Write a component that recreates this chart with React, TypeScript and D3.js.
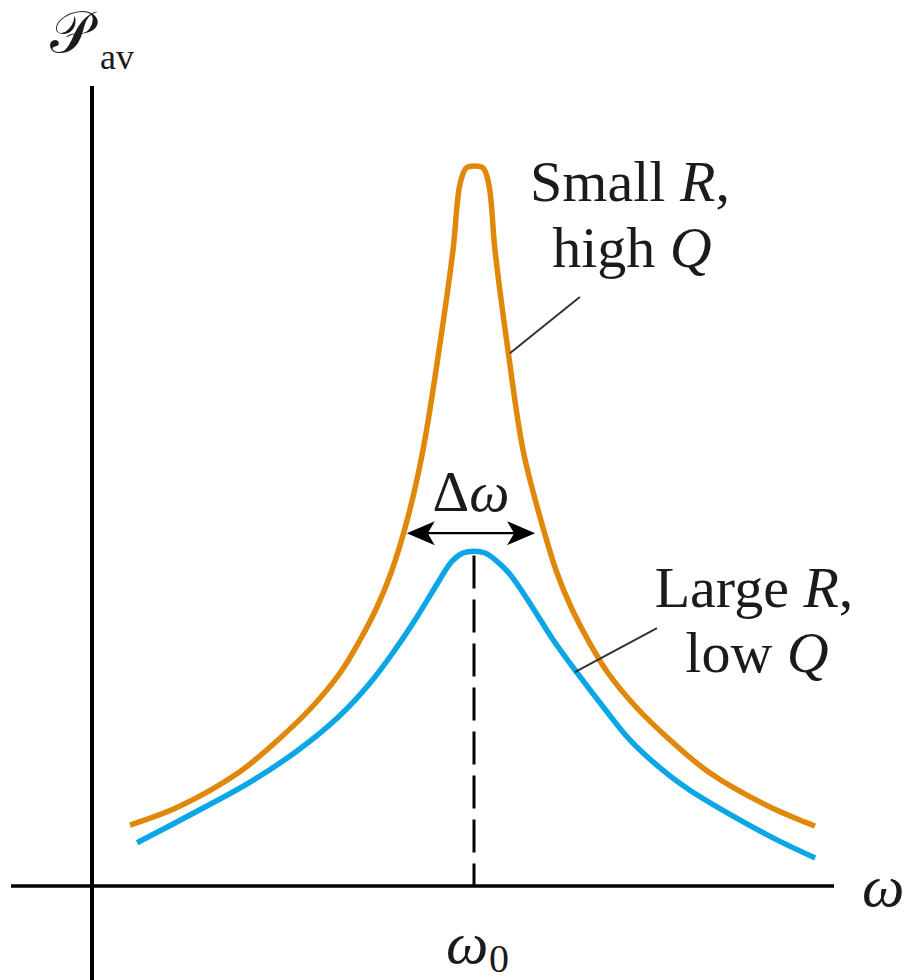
import React from "react";
import * as d3 from "d3";

// Resonance curves: average power vs angular frequency (ω in units of ω0)
const highQOmega = [0.0995, 0.2251, 0.3822, 0.4869, 0.5759, 0.6492, 0.7016, 0.7461, 0.7827, 0.8272, 0.8665, 0.9084, 0.945, 0.963, 0.979, 1.0, 1.024, 1.039, 1.055, 1.089, 1.1283, 1.1728, 1.2173, 1.2539, 1.2984, 1.3508, 1.4241, 1.5131, 1.6178, 1.7749, 1.8927];
const highQPower = [0.0847, 0.1097, 0.1569, 0.2028, 0.2486, 0.2958, 0.3417, 0.3875, 0.4347, 0.5125, 0.6056, 0.744, 0.883, 0.974, 0.997, 1.0, 0.997, 0.974, 0.883, 0.744, 0.6056, 0.5125, 0.4347, 0.3875, 0.3417, 0.2958, 0.2486, 0.2028, 0.1569, 0.1097, 0.0833];

const lowQOmega = [0.118, 0.2565, 0.406, 0.5366, 0.645, 0.728, 0.793, 0.851, 0.903, 0.942, 0.971, 1.0, 1.029, 1.058, 1.094, 1.152, 1.207, 1.27, 1.338, 1.408, 1.503, 1.565, 1.636, 1.793, 1.893];
const lowQPower = [0.06, 0.0986, 0.1417, 0.1875, 0.2347, 0.282, 0.328, 0.374, 0.419, 0.451, 0.4625, 0.465, 0.4625, 0.452, 0.433, 0.388, 0.342, 0.296, 0.249, 0.203, 0.157, 0.133, 0.11, 0.064, 0.039];

// Bandwidth arrow (ω range and power level) and resonance frequency
const bandwidthOmega = [0.824, 1.16];
const bandwidthPower = 0.49;
const resonanceOmega = 1.0;
const resonanceTopPower = 0.459;

// Leader lines: [ω, P] start on curve, end near label
const smallRLeader = [[1.094, 0.74], [1.277, 0.818]];
const largeRLeader = [[1.264, 0.297], [1.479, 0.358]];

const W = 904;
const H = 980;
const ORANGE = "#E0880A";
const BLUE = "#0AA6E6";
const INK = "#1c1a1a";
const SERIF = "Liberation Serif, Tinos, DejaVu Serif, serif";

export default function App() {
  const x = d3.scaleLinear().domain([0, 1]).range([92, 474]);
  const y = d3.scaleLinear().domain([0, 1]).range([886, 166]);

  const line = d3
    .line<[number, number]>()
    .x((d) => x(d[0]))
    .y((d) => y(d[1]))
    .curve(d3.curveCatmullRom.alpha(0.5));

  const highQ = highQOmega.map((w, i) => [w, highQPower[i]] as [number, number]);
  const lowQ = lowQOmega.map((w, i) => [w, lowQPower[i]] as [number, number]);

  const ay = y(bandwidthPower);
  const ax0 = x(bandwidthOmega[0]);
  const ax1 = x(bandwidthOmega[1]);
  const head = "M0,0 L-28,-12 L-21,0 L-28,12 Z";

  return (
    <svg
      width={W}
      height={H}
      style={{ position: "absolute", left: 0, top: 0, background: "#fff" }}
    >
      {/* axes */}
      <line x1={x(0)} x2={x(0)} y1={86} y2={H} stroke="#000" strokeWidth={4} />
      <line x1={11} x2={834} y1={y(0)} y2={y(0)} stroke="#000" strokeWidth={3.5} />

      {/* resonance marker */}
      <line
        x1={x(resonanceOmega)}
        x2={x(resonanceOmega)}
        y1={y(resonanceTopPower)}
        y2={y(0)}
        stroke="#000"
        strokeWidth={3}
        strokeDasharray="33 11"
      />

      {/* curves */}
      <path d={line(highQ) ?? ""} fill="none" stroke={ORANGE} strokeWidth={5.5} strokeLinejoin="round" />
      <path d={line(lowQ) ?? ""} fill="none" stroke={BLUE} strokeWidth={5.5} strokeLinejoin="round" />

      {/* bandwidth arrow */}
      <line x1={ax0 + 20} x2={ax1 - 20} y1={ay} y2={ay} stroke="#000" strokeWidth={2.2} />
      <path d={head} transform={`translate(${ax1},${ay})`} fill="#000" />
      <path d={head} transform={`translate(${ax0},${ay}) rotate(180)`} fill="#000" />
      <text x={471} y={511} fontFamily={SERIF} fontSize={57} fill={INK} textAnchor="middle">
        Δ<tspan fontStyle="italic">ω</tspan>
      </text>

      {/* leader lines */}
      {[smallRLeader, largeRLeader].map((l, i) => (
        <line
          key={i}
          x1={x(l[0][0])}
          y1={y(l[0][1])}
          x2={x(l[1][0])}
          y2={y(l[1][1])}
          stroke="#333"
          strokeWidth={2}
        />
      ))}

      {/* curve labels */}
      <g fontFamily={SERIF} fontSize={58} fill={INK} textAnchor="middle">
        <text x={630} y={201}>
          Small <tspan fontStyle="italic">R</tspan>,
        </text>
        <text x={632} y={267}>
          high <tspan fontStyle="italic">Q</tspan>
        </text>
        <text x={754} y={607}>
          Large <tspan fontStyle="italic">R</tspan>,
        </text>
        <text x={757} y={672}>
          low <tspan fontStyle="italic">Q</tspan>
        </text>
      </g>

      {/* axis labels */}
      <text x={50} y={52} fontFamily={SERIF} fontSize={58} fill={INK}>
        𝒫
      </text>
      <text x={100} y={69} fontFamily={SERIF} fontSize={36} fill={INK}>
        av
      </text>
      <text x={862} y={906} fontFamily={SERIF} fontSize={60} fontStyle="italic" fill={INK}>
        ω
      </text>
      <text x={446} y={963} fontFamily={SERIF} fontSize={60} fontStyle="italic" fill={INK}>
        ω
      </text>
      <text x={489} y={972} fontFamily={SERIF} fontSize={40} fill={INK}>
        0
      </text>
    </svg>
  );
}
